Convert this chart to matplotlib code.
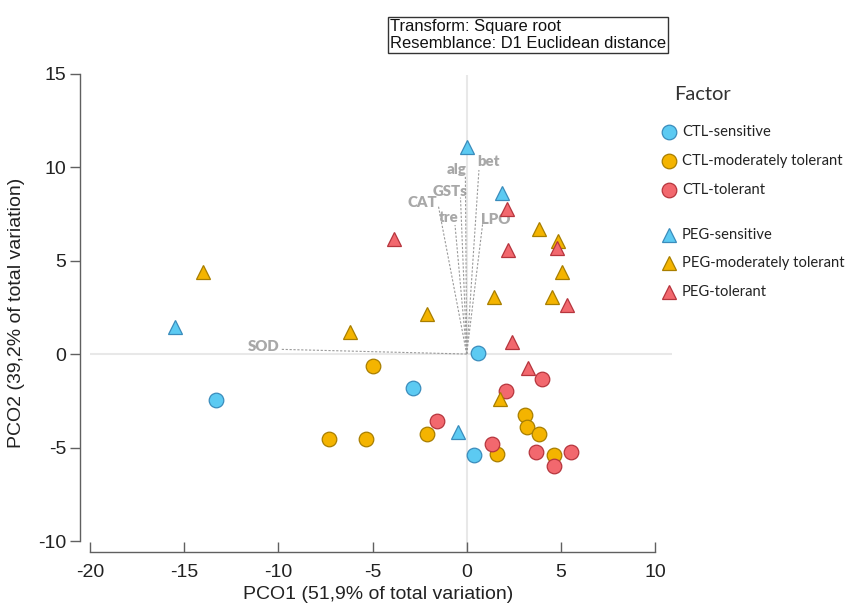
import matplotlib
matplotlib.use("Agg")
import matplotlib.pyplot as plt
from matplotlib.lines import Line2D

plt.rcParams["axes.unicode_minus"] = False

# ---------------- data ----------------
ctl_sens_x = [-13.3, -2.84, 0.58, 0.40]
ctl_sens_y = [-2.46, -1.84, 0.07, -5.42]

ctl_mod_x = [-5.0, -7.3, -5.35, -2.09, 1.59, 3.10, 3.18, 3.84, 4.64]
ctl_mod_y = [-0.64, -4.55, -4.55, -4.30, -5.37, -3.26, -3.90, -4.28, -5.40]

ctl_tol_x = [-1.59, 2.09, 4.00, 1.36, 3.66, 4.64, 5.54]
ctl_tol_y = [-3.57, -2.00, -1.35, -4.83, -5.26, -5.97, -5.22]

peg_sens_x = [-15.5, 0.0, 1.86, -0.48]
peg_sens_y = [1.44, 11.09, 8.59, -4.15]

peg_mod_x = [-14.0, -6.2, -2.09, 1.47, 3.84, 4.87, 5.08, 4.55, 1.77]
peg_mod_y = [4.38, 1.16, 2.14, 3.06, 6.68, 6.04, 4.40, 3.06, -2.40]

peg_tol_x = [-3.86, 2.12, 2.18, 4.78, 5.31, 2.39, 3.27]
peg_tol_y = [6.17, 7.74, 5.56, 5.65, 2.62, 0.66, -0.77]

vec_names = ["SOD", "CAT", "tre", "GSTs", "alg", "bet", "LPO"]
vec_x = [-9.82, -1.50, -0.62, -0.33, -0.07, 0.65, 0.85]
vec_y = [0.25, 7.90, 6.90, 8.37, 9.48, 9.84, 6.99]

x_ticks = [-20, -15, -10, -5, 0, 5, 10]
y_ticks = [-10, -5, 0, 5, 10, 15]

group_labels = ["CTL-sensitive", "CTL-moderately tolerant", "CTL-tolerant",
                "PEG-sensitive", "PEG-moderately tolerant", "PEG-tolerant"]

# ---------------- styles ----------------
BLUE = ("#5ccaf2", "#3a8cbc")
ORANGE = ("#f4b400", "#a87e00")
RED = ("#f2686e", "#b6353d")

groups = [
    (ctl_sens_x, ctl_sens_y, "o", BLUE),
    (ctl_mod_x, ctl_mod_y, "o", ORANGE),
    (ctl_tol_x, ctl_tol_y, "o", RED),
    (peg_sens_x, peg_sens_y, "^", BLUE),
    (peg_mod_x, peg_mod_y, "^", ORANGE),
    (peg_tol_x, peg_tol_y, "^", RED),
]

# label offsets (pixels) for vector labels
vec_offsets = {"SOD": (-18, 3), "CAT": (-16, 4), "tre": (-6, 8), "GSTs": (-10, 6),
               "alg": (-9, 7), "bet": (10, 9), "LPO": (13, 4)}

W, H = 851, 605
fig = plt.figure(figsize=(W / 100, H / 100), dpi=100)
ax = fig.add_axes([78.8 / W, 49 / H, 598.8 / W, 486.2 / H])
ax.set_xlim(-20.6, 11.2)
ax.set_ylim(-10.8, 15.2)
ax.patch.set_alpha(0)

# zero reference lines
ax.hlines(0, -20, 10.9, color="#e8e8e8", lw=1.5, zorder=1)
ax.vlines(0, -10.6, 14.9, color="#e8e8e8", lw=1.5, zorder=1)

# vectors
for name, vx, vy in zip(vec_names, vec_x, vec_y):
    ax.plot([0, vx], [0, vy], color="#9a9a9a", lw=0.8, ls=(0, (2, 1.5)), zorder=2)
    dx, dy = vec_offsets[name]
    ax.annotate(name, (vx, vy), xytext=(dx, dy), textcoords="offset pixels",
                ha="center", va="center", fontsize=10.8, fontweight="heavy",
                color="#a8a8a8", family="Lato", zorder=2)

# points
for gx, gy, m, (fc, ec) in groups:
    ax.plot(gx, gy, ls="none", marker=m, ms=10.5,
            mfc=fc, mec=ec, mew=0.9, zorder=3)

# axes styling (detached spines)
for s in ["top", "right"]:
    ax.spines[s].set_visible(False)
ax.spines["left"].set_position(("data", -20.54))
ax.spines["left"].set_bounds(-10, 15)
ax.spines["bottom"].set_position(("data", -10.61))
ax.spines["bottom"].set_bounds(-20, 10)
for s in ["left", "bottom"]:
    ax.spines[s].set_color("#606060")
    ax.spines[s].set_linewidth(1.0)
ax.set_xticks(x_ticks)
ax.set_yticks(y_ticks)
ax.tick_params(axis="x", direction="in", length=7, width=1, color="#606060",
               labelsize=14, pad=8, labelcolor="#222222")
ax.tick_params(axis="y", direction="out", length=7, width=1, color="#606060",
               labelsize=14, pad=3, labelcolor="#222222")
for lab in ax.get_xticklabels() + ax.get_yticklabels():
    lab.set_family("Liberation Sans")

ax.set_xlabel("PCO1 (51,9% of total variation)", fontsize=14,
              family="Liberation Sans", color="#222222", labelpad=4)
ax.set_ylabel("PCO2 (39,2% of total variation)", fontsize=14,
              family="Liberation Sans", color="#222222", labelpad=9)

# annotation box
fig.text(390 / W, 1 - 35 / H, "Transform: Square root\nResemblance: D1 Euclidean distance",
         ha="left", va="center", fontsize=11.9, family="Liberation Sans",
         color="#111111", linespacing=1.15,
         bbox=dict(boxstyle="square,pad=0.14", fc="white", ec="#333333", lw=1))

# legend (manual)
fig.text(674 / W, 1 - 95 / H, "Factor", ha="left", va="center", fontsize=14.5,
         family="Lato", color="#333333")
row_y = [132, 161, 190, 235, 263, 292]
for (gx, gy, m, (fc, ec)), lab, ry in zip(groups, group_labels, row_y):
    fig.add_artist(Line2D([669 / W], [1 - ry / H], transform=fig.transFigure,
                          ls="none", marker=m, ms=10.5, mfc=fc, mec=ec, mew=0.9))
    fig.text(682 / W, 1 - ry / H, lab, ha="left", va="center", fontsize=10.6,
             family="Lato", color="#222222")

fig.savefig("out.png", dpi=100)
